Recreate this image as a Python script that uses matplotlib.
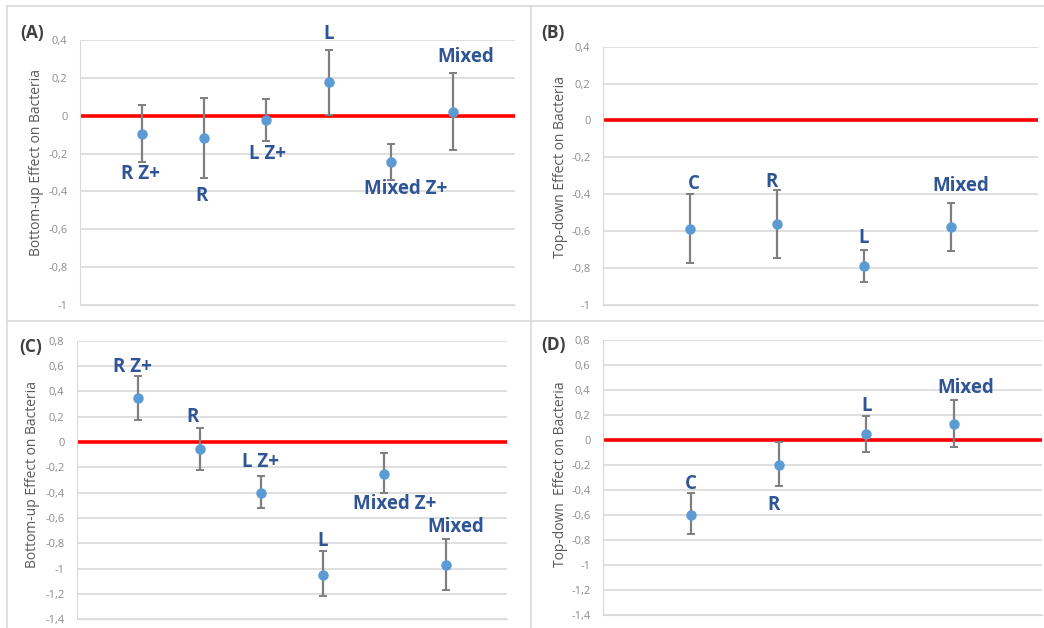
import matplotlib
matplotlib.use('Agg')
import numpy as np
from matplotlib import pyplot as plt
from matplotlib.lines import Line2D
from matplotlib.ticker import FuncFormatter, MultipleLocator

W, H = 1044, 628

# (A) bottom-up, x 0..7
a_groups = ['R Z+', 'R', 'L Z+', 'L', 'Mixed Z+', 'Mixed']
a_mean = [-0.097, -0.12, -0.023, 0.177, -0.247, 0.021]
a_upper = [0.056, 0.095, 0.088, 0.348, -0.151, 0.224]
a_lower = [-0.243, -0.33, -0.134, 0.005, -0.34, -0.183]

# (B) top-down, x 0..5
b_groups = ['C', 'R', 'L', 'Mixed']
b_mean = [-0.59, -0.563, -0.789, -0.577]
b_upper = [-0.40, -0.377, -0.70, -0.445]
b_lower = [-0.77, -0.747, -0.877, -0.706]

# (C) bottom-up
c_groups = ['R Z+', 'R', 'L Z+', 'L', 'Mixed Z+', 'Mixed']
c_mean = [0.345, -0.058, -0.40, -1.048, -0.25, -0.974]
c_upper = [0.521, 0.108, -0.266, -0.858, -0.089, -0.769]
c_lower = [0.174, -0.221, -0.524, -1.216, -0.40, -1.169]

# (D) top-down
d_groups = ['C', 'R', 'L', 'Mixed']
d_mean = [-0.60, -0.195, 0.051, 0.128]
d_upper = [-0.426, -0.019, 0.195, 0.32]
d_lower = [-0.754, -0.368, -0.096, -0.056]

# label offsets from the point, in pixels (dx right, dy up)
a_offsets = [(-2, -40), (-3, -58), (1, -34), (0, 48), (15, -27), (13, 55)]
b_offsets = [(4, 45), (-5, 42), (0, 28), (10, 41)]
c_offsets = [(-6, 31), (-7, 32), (-1, 31), (0, 34), (10, -30), (10, 38)]
d_offsets = [(0, 31), (-5, -40), (0, 28), (12, 36)]

GRID = '#d9d9d9'
TICK = '#8c8c8c'
LABEL_BLUE = '#2f5597'
POINT_BLUE = '#5b9bd5'


def comma_fmt(v, pos):
    if abs(v) < 1e-9:
        return '0'
    return ('%g' % round(v, 2)).replace('.', ',')


def add_axes_px(fig, left, top, right, bottom):
    return fig.add_axes([left / W, 1 - bottom / H, (right - left) / W, (bottom - top) / H])


def draw_panel(ax, groups, mean, upper, lower, offsets, xmax, ylim):
    x = np.arange(1, len(groups) + 1)
    mean = np.array(mean)
    err = [mean - np.array(lower), np.array(upper) - mean]
    ax.set_xlim(0, xmax)
    ax.set_ylim(*ylim)
    ax.yaxis.set_major_locator(MultipleLocator(0.2))
    ax.yaxis.set_major_formatter(FuncFormatter(comma_fmt))
    ax.grid(axis='y', color=GRID, lw=1.2, zorder=0)
    ax.set_axisbelow(True)
    ax.set_xticks([])
    ax.tick_params(axis='y', length=0, labelsize=8, labelcolor=TICK, pad=9)
    for s in ['top', 'right']:
        ax.spines[s].set_visible(False)
    ax.spines['left'].set_color(GRID)
    ax.spines['bottom'].set_color(GRID)
    ax.axhline(0, color='#ff0000', lw=2.6, zorder=2)
    ax.errorbar(x, mean, yerr=err, fmt='o', color=POINT_BLUE, ms=6.5,
                ecolor='#7f7f7f', elinewidth=1.6, capsize=3, capthick=1.4, zorder=3)
    for xi, yi, name, (dx, dy) in zip(x, mean, groups, offsets):
        ax.annotate(name, (xi, yi), xytext=(dx, dy), textcoords='offset pixels',
                    ha='center', va='center', fontsize=13.5, fontweight='bold',
                    color=LABEL_BLUE, family='Open Sans')


plt.rcParams['font.family'] = ['Open Sans', 'DejaVu Sans']
fig = plt.figure(figsize=(W / 100, H / 100), dpi=100)

# panel borders
for x0, y0, x1, y1 in [(7, 6, 1044, 6), (7, 6, 7, 628), (531, 6, 531, 628), (7, 321, 1044, 321)]:
    fig.add_artist(Line2D([x0 / W, x1 / W], [1 - y0 / H, 1 - y1 / H], color=GRID, lw=1.2))

ax_a = add_axes_px(fig, 80, 40, 515, 305)
draw_panel(ax_a, a_groups, a_mean, a_upper, a_lower, a_offsets, 7, (-1, 0.4))
ax_b = add_axes_px(fig, 603, 46.7, 1038, 305)
draw_panel(ax_b, b_groups, b_mean, b_upper, b_lower, b_offsets, 5, (-1, 0.4))
ax_c = add_axes_px(fig, 77, 340.7, 507, 619.3)
draw_panel(ax_c, c_groups, c_mean, c_upper, c_lower, c_offsets, 7, (-1.4, 0.8))
ax_d = add_axes_px(fig, 603, 340, 1042, 615.3)
draw_panel(ax_d, d_groups, d_mean, d_upper, d_lower, d_offsets, 5, (-1.4, 0.8))

# panel letters and axis titles
panel_text = [('(A)', 32, 33, 'Bottom-up Effect on Bacteria', 37, 162),
              ('(B)', 553, 33, 'Top-down Effect on Bacteria', 560, 167),
              ('(C)', 31, 347, 'Bottom-up Effect on Bacteria', 33, 475),
              ('(D)', 553, 345, 'Top-down  Effect on Bacteria', 560, 474)]
for letter, lx, ly, title, tx, ty in panel_text:
    fig.text(lx / W, 1 - ly / H, letter, ha='center', va='center',
             fontsize=12.5, fontweight='bold', color='#404040')
    fig.text(tx / W, 1 - ty / H, title, ha='center', va='center', rotation=90,
             fontsize=10, color='#595959')

fig.savefig('out.png', dpi=100, facecolor='white')
